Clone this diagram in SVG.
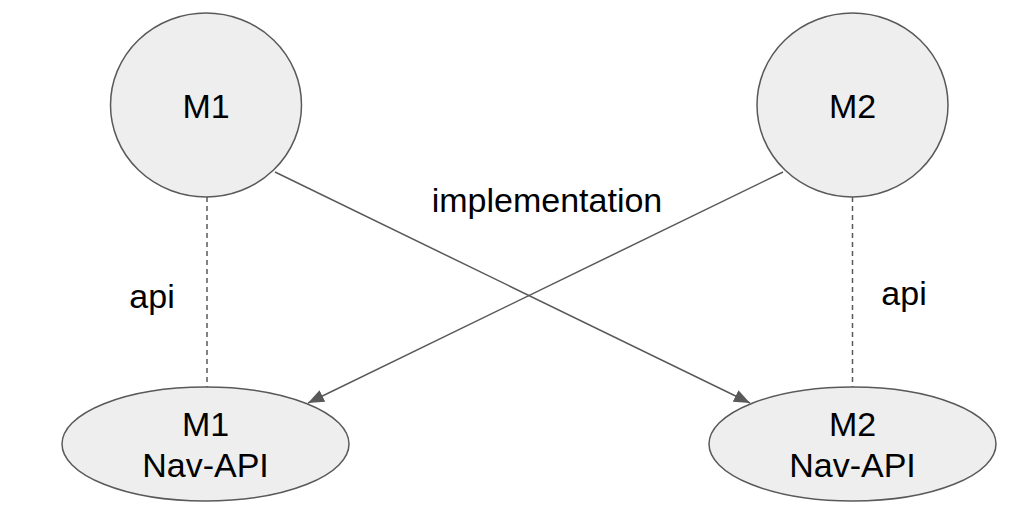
<svg xmlns="http://www.w3.org/2000/svg" width="1030" height="526" viewBox="0 0 1030 526">
  <style>
    .node { fill: #eeeeee; stroke: #595959; stroke-width: 1.5; }
    .lbl { font-family: "Liberation Sans", Arial, sans-serif; font-size: 34px; fill: #000000; text-anchor: middle; }
    .edge { stroke: #595959; stroke-width: 1.5; fill: none; }
    .dash { stroke-dasharray: 5 4; }
  </style>
  <defs>
    <marker id="arrow" markerUnits="userSpaceOnUse" markerWidth="17" markerHeight="13" refX="16" refY="6.5" orient="auto">
      <path d="M0,0 L16,6.5 L0,13 z" fill="#595959"/>
    </marker>
  </defs>
  <rect width="1030" height="526" fill="#ffffff"/>
  <g id="connectors">
    <line class="edge dash" x1="207" y1="197" x2="207" y2="387"/>
    <line class="edge dash" x1="852.5" y1="197" x2="852.5" y2="387"/>
    <line class="edge" x1="275" y1="172" x2="750" y2="403" marker-end="url(#arrow)"/>
    <line class="edge" x1="783" y1="172" x2="308" y2="403" marker-end="url(#arrow)"/>
    <text class="lbl" x="547" y="212">implementation</text>
    <text class="lbl" x="152" y="308">api</text>
    <text class="lbl" x="904" y="305">api</text>
  </g>
  <g id="m1">
    <ellipse class="node" cx="206" cy="105" rx="95.5" ry="92"/>
    <text class="lbl" x="206" y="118">M1</text>
  </g>
  <g id="m2">
    <ellipse class="node" cx="852.5" cy="105" rx="95.5" ry="92"/>
    <text class="lbl" x="852.5" y="118">M2</text>
  </g>
  <g id="m1-nav-api">
    <ellipse class="node" cx="205.5" cy="444" rx="143.5" ry="57"/>
    <text class="lbl" x="205.5" y="436">M1</text>
    <text class="lbl" x="205.5" y="477">Nav-API</text>
  </g>
  <g id="m2-nav-api">
    <ellipse class="node" cx="852.5" cy="444" rx="143.5" ry="57"/>
    <text class="lbl" x="852.5" y="436">M2</text>
    <text class="lbl" x="852.5" y="477">Nav-API</text>
  </g>
</svg>
